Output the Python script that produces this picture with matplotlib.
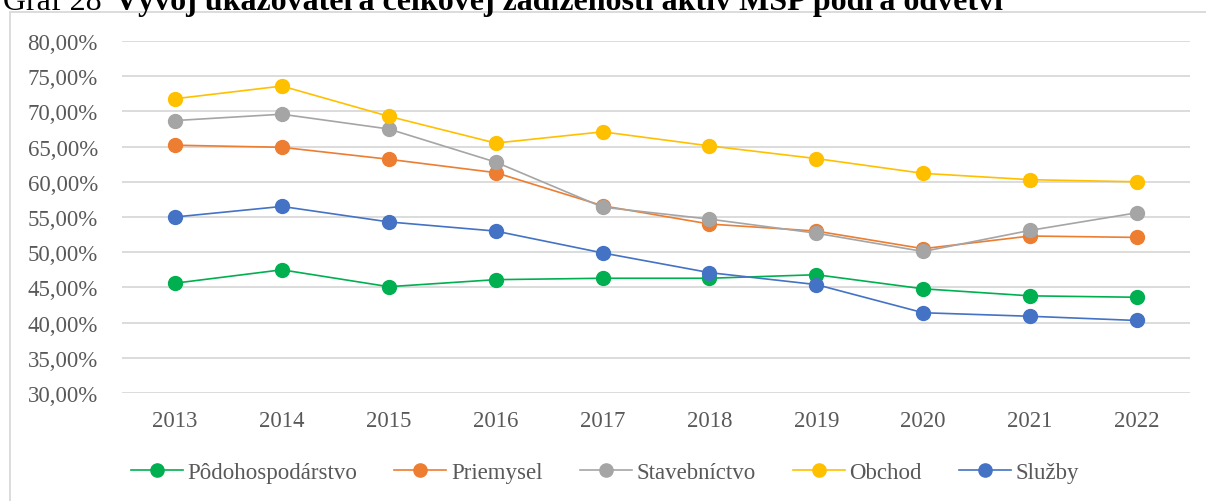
import matplotlib.pyplot as plt
from matplotlib.patches import Rectangle
from matplotlib.ticker import FuncFormatter

years = ["2013", "2014", "2015", "2016", "2017", "2018", "2019", "2020", "2021", "2022"]

podohospodarstvo = [45.6, 47.5, 45.1, 46.1, 46.3, 46.3, 46.8, 44.8, 43.8, 43.6]
priemysel = [65.2, 64.9, 63.2, 61.3, 56.6, 54.0, 53.0, 50.5, 52.3, 52.1]
stavebnictvo = [68.7, 69.6, 67.5, 62.8, 56.4, 54.7, 52.7, 50.1, 53.1, 55.6]
obchod = [71.8, 73.6, 69.3, 65.5, 67.1, 65.1, 63.3, 61.2, 60.3, 60.0]
sluzby = [55.0, 56.5, 54.3, 53.0, 49.9, 47.1, 45.4, 41.4, 40.9, 40.3]

series = [
    ("Pôdohospodárstvo", podohospodarstvo, "#00B050"),
    ("Priemysel", priemysel, "#ED7D31"),
    ("Stavebníctvo", stavebnictvo, "#A5A5A5"),
    ("Obchod", obchod, "#FFC000"),
    ("Služby", sluzby, "#4472C4"),
]

plt.rcParams["font.family"] = ["Liberation Serif", "DejaVu Serif"]

W, H = 1206, 502
fig = plt.figure(figsize=(W / 100, H / 100), dpi=100)
ax = fig.add_axes([121.6 / W, 1 - 394 / H, (1190.4 - 121.6) / W, (394 - 42) / H])

# ramcek grafu (vidno len lavy a horny okraj)
fig.patches.append(Rectangle((10 / W, -0.1), 1.2, 1 - 13 / H + 0.1,
                             transform=fig.transFigure, fill=False,
                             edgecolor="#D9D9D9", linewidth=1.3))

x = list(range(len(years)))
for name, vals, col in series:
    ax.plot(x, vals, color=col, linewidth=1.2, marker="o", markersize=10,
            label=name, zorder=3)

ax.set_ylim(30, 80)
ax.set_yticks(range(30, 81, 5))
ax.yaxis.set_major_formatter(FuncFormatter(lambda v, p: f"{v:.2f}".replace(".", ",") + "%"))
ax.set_xlim(-0.5, len(years) - 0.5)
ax.set_xticks(x)
ax.set_xticklabels(years)
ax.grid(axis="y", color="#D9D9D9", linewidth=1.3)
ax.set_axisbelow(True)
for s in ax.spines.values():
    s.set_visible(False)
ax.tick_params(length=0, labelsize=16.5, labelcolor="#595959")
ax.tick_params(axis="y", pad=17)
ax.tick_params(axis="x", pad=12)

ax.legend(loc="center", bbox_to_anchor=(605 / W, 1 - 473 / H), bbox_transform=fig.transFigure,
          ncol=5, frameon=False, fontsize=16.5, labelcolor="#595959",
          handlelength=2.27, columnspacing=1.6, handletextpad=0.22, markerscale=0.95)

fig.text(3 / W, 1 - 10 / H, "Graf 28", fontsize=23, va="baseline", ha="left")
fig.text(115 / W, 1 - 10 / H, "Vývoj ukazovateľa celkovej zadlženosti aktív MSP podľa odvetví",
         fontsize=23, fontweight="bold", va="baseline", ha="left")

fig.savefig("out.png", dpi=100)
